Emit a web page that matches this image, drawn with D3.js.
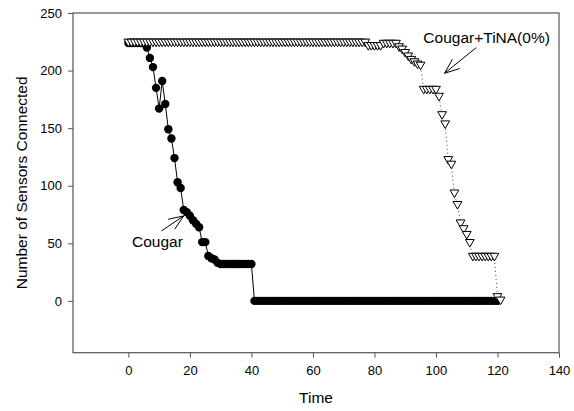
<!DOCTYPE html>
<html>
<head>
<meta charset="utf-8">
<script src="https://cdn.jsdelivr.net/npm/d3@7"></script>
<style>
  body { margin: 0; background: #fff; }
  svg { font-family: "Liberation Sans", Arial, sans-serif; }
</style>
</head>
<body>
<svg id="chart" width="574" height="411"></svg>
<script>
// values, one per time unit starting at t = 0
const cougar = [
  224, 224, 224, 224, 224, 224,
  220, 211, 203, 185, 167, 191, 171, 149, 141, 124,
  103, 98, 79, 77, 74, 70, 67, 64, 51, 51,
  39, 37, 36, 33,
  32, 32, 32, 32, 32, 32, 32, 32, 32, 32, 32,
  0, 0, 0, 0, 0, 0, 0, 0, 0, 0, 0, 0, 0, 0, 0, 0, 0, 0, 0, 0,
  0, 0, 0, 0, 0, 0, 0, 0, 0, 0, 0, 0, 0, 0, 0, 0, 0, 0, 0, 0,
  0, 0, 0, 0, 0, 0, 0, 0, 0, 0, 0, 0, 0, 0, 0, 0, 0, 0, 0, 0,
  0, 0, 0, 0, 0, 0, 0, 0, 0, 0, 0, 0, 0, 0, 0, 0, 0, 0, 0, 0
]

const cougarTina = [
  224, 224, 224, 224, 224, 224, 224, 224, 224, 224, 224, 224, 224,
  224, 224, 224, 224, 224, 224, 224, 224, 224, 224, 224, 224, 224,
  224, 224, 224, 224, 224, 224, 224, 224, 224, 224, 224, 224, 224,
  224, 224, 224, 224, 224, 224, 224, 224, 224, 224, 224, 224, 224,
  224, 224, 224, 224, 224, 224, 224, 224, 224, 224, 224, 224, 224,
  224, 224, 224, 224, 224, 224, 224, 224, 224, 224, 224, 224, 224,
  221, 221, 221, 221, 221,
  223, 223, 223, 223, 223,
  220, 218, 215, 212, 209, 207, 205, 204,
  183, 183, 183, 183, 183,
  177, 161, 153, 122, 118, 93, 83, 67, 62, 57, 50,
  38, 38, 38, 38, 38, 38, 38, 38,
  3, 0
]

const xTicks = [0, 20, 40, 60, 80, 100, 120, 140]
const yTicks = [0, 50, 100, 150, 200, 250]

const svg = d3.select('#chart')

const plotLeft = 73, plotRight = 559, plotTop = 13, plotBottom = 352.7
const axisColor = '#555'

//scales
const xScale = d3.scaleLinear().domain([-18, 140]).range([plotLeft, plotRight])
const yScale = d3.scaleLinear().domain([-45, 250]).range([plotBottom, plotTop])

const cougarData = cougar.map((v, i) => ({t: i, v: v}))
const tinaData = cougarTina.map((v, i) => ({t: i, v: v}))

//axes
const xAxis = svg.append('g')
    .attr('transform', `translate(0, ${plotBottom})`)
    .call(d3.axisBottom(xScale).tickValues(xTicks).tickSize(5).tickSizeOuter(0).tickPadding(8))
const yAxis = svg.append('g')
    .attr('transform', `translate(${plotLeft}, 0)`)
    .call(d3.axisLeft(yScale).tickValues(yTicks).tickSize(5).tickSizeOuter(0).tickPadding(6))

;[xAxis, yAxis].forEach(a => {
    a.select('.domain').remove()
    a.selectAll('line').attr('stroke', axisColor)
    a.selectAll('text').attr('fill', '#000').style('font-size', '13px')
})

//frame
svg.append('rect')
    .attr('x', plotLeft).attr('y', plotTop)
    .attr('width', plotRight - plotLeft).attr('height', plotBottom - plotTop)
    .attr('fill', 'none').attr('stroke', axisColor).attr('stroke-width', 1.2)

//axis titles
svg.append('text')
    .attr('x', (plotLeft + plotRight) / 2).attr('y', 403)
    .attr('text-anchor', 'middle').style('font-size', '15.5px')
    .text('Time')
svg.append('text')
    .attr('transform', `translate(27, ${(plotTop + plotBottom) / 2}) rotate(-90)`)
    .attr('text-anchor', 'middle').style('font-size', '15.5px')
    .text('Number of Sensors Connected')

const line = d3.line().x(d => xScale(d.t)).y(d => yScale(d.v))

//cougar: solid line + filled circles
svg.append('path')
    .datum(cougarData)
    .attr('d', line)
    .attr('fill', 'none').attr('stroke', '#000').attr('stroke-width', 1)

svg.append('g').selectAll('circle')
    .data(cougarData)
    .join('circle')
    .attr('cx', d => xScale(d.t))
    .attr('cy', d => yScale(d.v))
    .attr('r', 4.2)
    .attr('fill', '#000')

//cougar+tina: dotted line + open down triangles
svg.append('path')
    .datum(tinaData)
    .attr('d', line)
    .attr('fill', 'none').attr('stroke', '#444').attr('stroke-width', 1)
    .attr('stroke-dasharray', '1,3')

const tri = 'M-4.4,-3.8L4.4,-3.8L0,3.8Z'
svg.append('g').selectAll('path')
    .data(tinaData)
    .join('path')
    .attr('d', tri)
    .attr('transform', d => `translate(${xScale(d.t)}, ${yScale(d.v)})`)
    .attr('fill', '#fff').attr('stroke', '#000').attr('stroke-width', 1)

//annotations with open arrows
function arrow(tail, tip) {
    const x0 = xScale(tail[0]), y0 = yScale(tail[1])
    const x1 = xScale(tip[0]), y1 = yScale(tip[1])
    const ang = Math.atan2(y0 - y1, x0 - x1)
    const g = svg.append('g').attr('stroke', '#000').attr('stroke-width', 1)
    g.append('line').attr('x1', x0).attr('y1', y0).attr('x2', x1).attr('y2', y1)
    ;[-0.38, 0.38].forEach(da => {
        g.append('line')
            .attr('x1', x1).attr('y1', y1)
            .attr('x2', x1 + 16 * Math.cos(ang + da))
            .attr('y2', y1 + 16 * Math.sin(ang + da))
    })
}

svg.append('text')
    .attr('x', xScale(1.2)).attr('y', yScale(47))
    .style('font-size', '15.5px')
    .text('Cougar')
arrow([10.8, 60.8], [18, 73.8])

svg.append('text')
    .attr('x', xScale(95.9)).attr('y', yScale(224))
    .style('font-size', '15.5px')
    .text('Cougar+TiNA(0%)')
arrow([113.1, 219.9], [102.8, 197.7])
</script>
</body>
</html>
